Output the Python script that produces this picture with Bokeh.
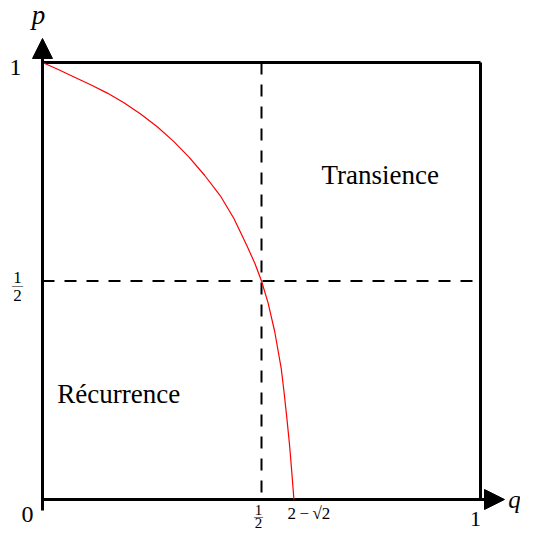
from bokeh.plotting import figure
from bokeh.models import Range1d, Arrow, NormalHead
from bokeh.core.properties import value
from bokeh.embed import file_html
from bokeh.resources import INLINE

# Curve separating recurrence / transience
q_curve = [0.0, 0.036, 0.072, 0.110, 0.148, 0.186, 0.224, 0.262, 0.300, 0.335,
           0.370, 0.406, 0.437, 0.467, 0.485, 0.500, 0.515, 0.530, 0.545, 0.551,
           0.558, 0.564, 0.569, 0.574]
p_curve = [1.0, 0.984, 0.967, 0.949, 0.930, 0.908, 0.882, 0.853, 0.819, 0.783,
           0.742, 0.695, 0.643, 0.580, 0.540, 0.500, 0.450, 0.385, 0.300, 0.250,
           0.185, 0.125, 0.065, 0.0]

half = 0.5
q_crit_label = "2\u2009\u2212\u2009\u221a2"
region_labels = ["Transience", "R\u00e9currence"]
region_q = [0.771, 0.174]
region_p = [0.743, 0.242]

SERIF = value("Liberation Serif")

p = figure(width=520, height=530, x_range=Range1d(-0.09589, 1.09132),
           y_range=Range1d(-0.07094, 1.14188), output_backend="svg",
           toolbar_location=None, x_axis_location=None, y_axis_location=None,
           min_border=0, title=None)
p.outline_line_color = None
p.xgrid.visible = False
p.ygrid.visible = False
p.background_fill_color = "white"
p.border_fill_color = "white"

# frame: top and right border
p.line([0, 1], [1, 1], line_color="black", line_width=3)
p.line([1, 1], [0, 1], line_color="black", line_width=3)
# axes with arrows
p.line([0, 0], [-0.025, 1], line_color="black", line_width=3)
p.line([0, 1], [0, 0], line_color="black", line_width=3)
p.add_layout(Arrow(end=NormalHead(size=20, fill_color="black", line_color="black"),
                   x_start=0, y_start=0.9, x_end=0, y_end=1.055,
                   line_color="black", line_width=3))
p.add_layout(Arrow(end=NormalHead(size=20, fill_color="black", line_color="black"),
                   x_start=0.9, y_start=0, x_end=1.0548, y_end=0,
                   line_color="black", line_width=3))

# dashed 1/2 lines
p.line([half, half], [1, 0], line_color="black", line_width=2, line_dash="12 10")
p.line([0, 1], [half, half], line_color="black", line_width=2, line_dash="12 10")

# curve
p.line(q_curve, p_curve, line_color="red", line_width=1.2)

def txt(x, y, s, size, xo=0, yo=0, align="center", style="normal"):
    p.text(x=[x], y=[y], text=[s], x_offset=xo, y_offset=yo,
           text_font=SERIF, text_font_size=f"{size}px", text_align=align,
           text_baseline="middle", text_font_style=style, text_color="black")

# axis names
txt(0, 1, "p", 27, xo=-4, yo=-48, style="italic")
txt(1, 0, "q", 25, xo=34, yo=0, style="italic")
# ticks labels
txt(0, 1, "1", 24, xo=-21, yo=5, align="right")
txt(0, 0, "0", 24, xo=-9, yo=15, align="right")
txt(1, 0, "1", 22, xo=-5, yo=20)
# fractions 1/2
txt(0, half, "1", 17, xo=-25, yo=-4)
txt(0, half, "\u2014", 11, xo=-25, yo=4)
txt(0, half, "2", 17, xo=-25, yo=14)
txt(half, 0, "1", 15, xo=-3, yo=11)
txt(half, 0, "\u2014", 9, xo=-3, yo=17)
txt(half, 0, "2", 15, xo=-3, yo=24)
# 2 - sqrt 2
txt(q_curve[-1], 0, q_crit_label, 17, xo=15, yo=14)

# region labels
for s, x, y in zip(region_labels, region_q, region_p):
    txt(x, y, s, 27)

open("out.html", "w").write(file_html(p, INLINE))
